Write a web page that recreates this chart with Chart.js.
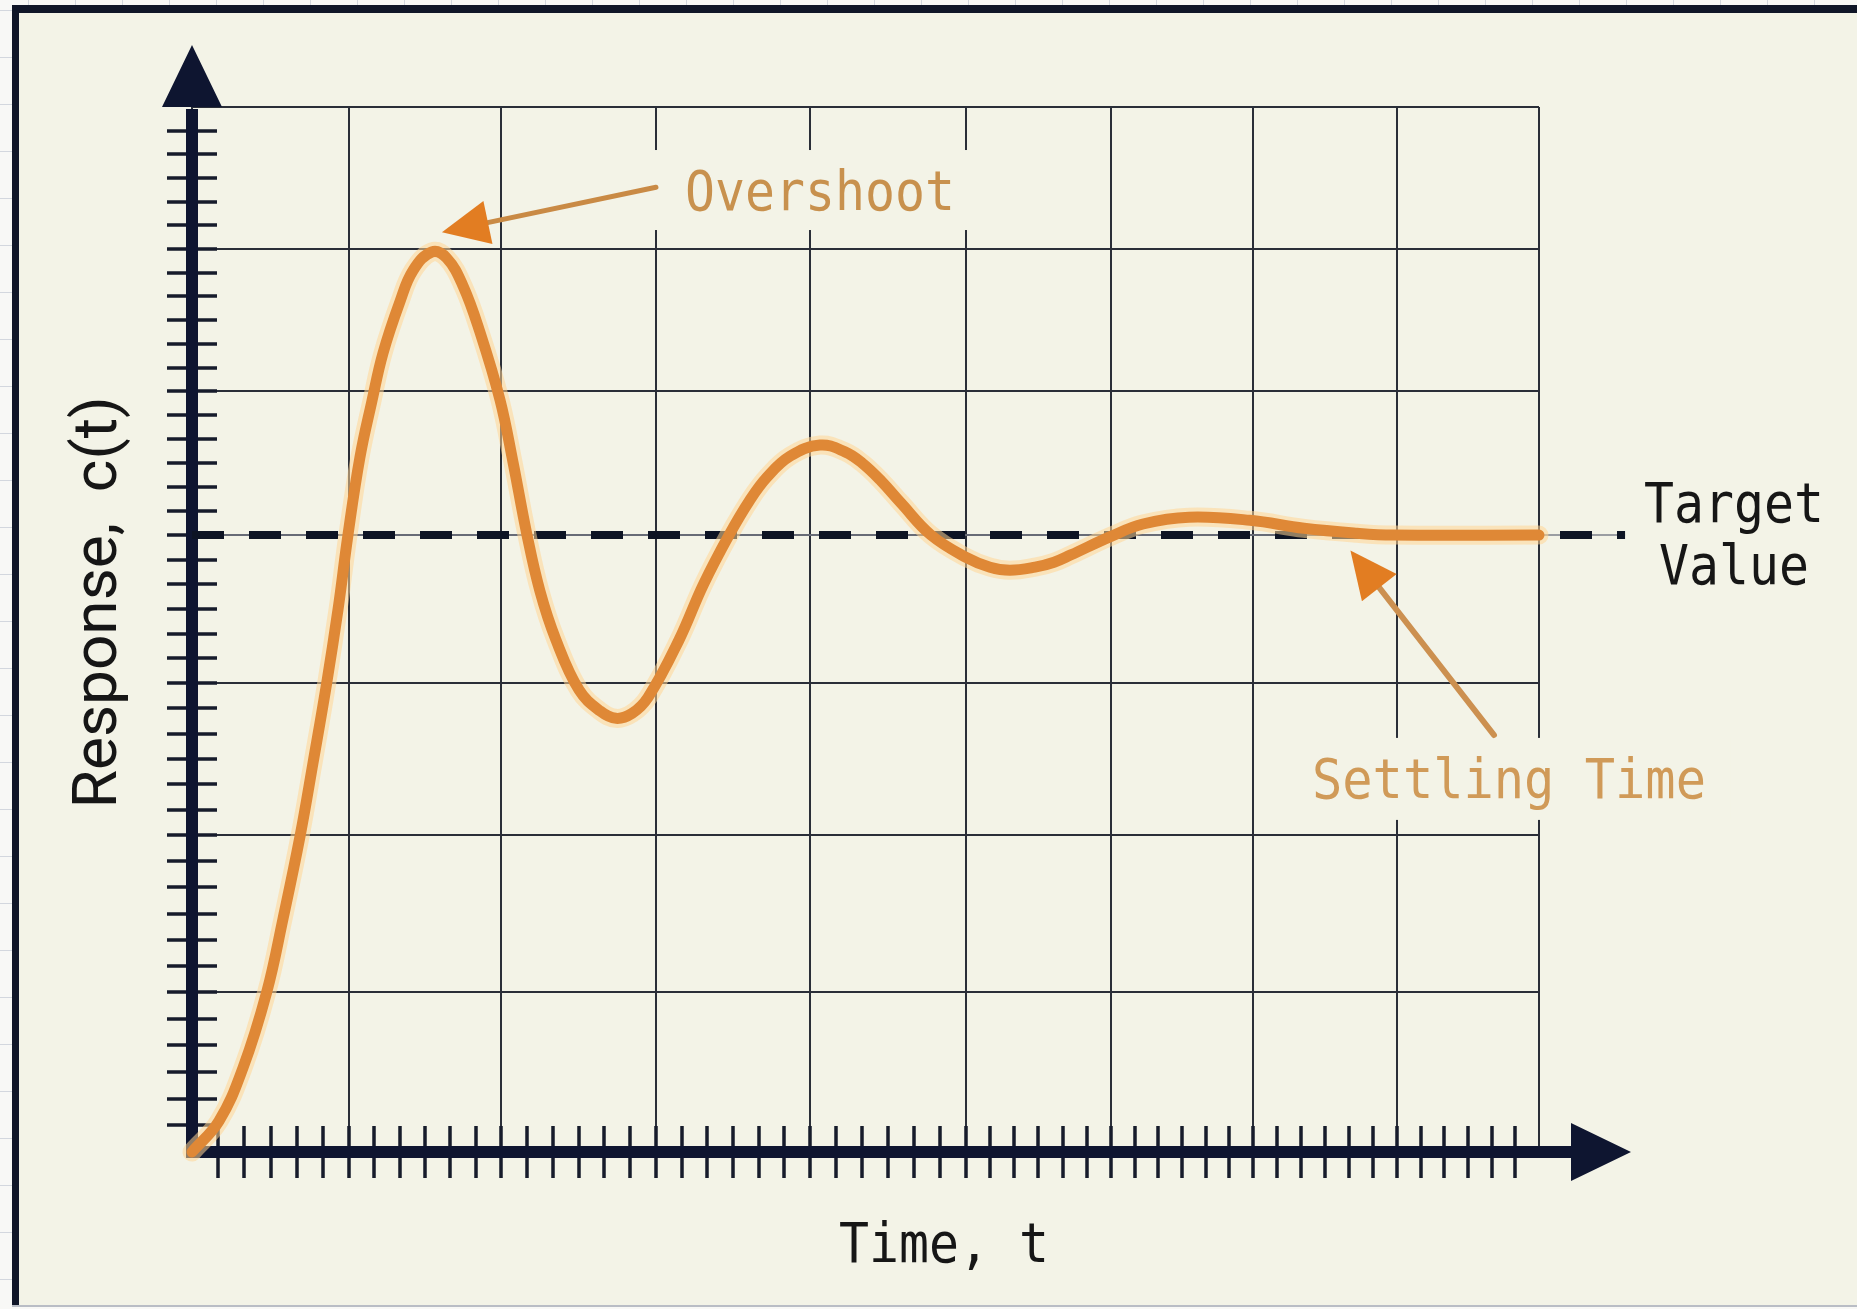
<!DOCTYPE html>
<html>
<head>
<meta charset="utf-8">
<style>
  html, body { margin: 0; padding: 0; background: #f8f8f6; }
  canvas { display: block; }
</style>
<script src="https://cdn.jsdelivr.net/npm/chart.js@4.4.1/dist/chart.umd.min.js"></script>
</head>
<body>
<canvas id="chart" width="1857" height="1309" style="width:1857px;height:1309px"></canvas>
<script>
// ─── DATA ─────────────────────────────────────────────────────
// step response (time axis 0..9, target = 1)
const timeValues = [
  0, 0.18, 0.34, 0.499, 0.608, 0.722, 0.808, 0.900, 0.976, 1.042,
  1.122, 1.201, 1.276, 1.390, 1.477, 1.602, 1.702, 1.811, 1.924, 2.058,
  2.145, 2.236, 2.325, 2.432, 2.586, 2.726, 2.833, 2.940, 3.047, 3.254,
  3.415, 3.588, 3.728, 3.842, 3.996, 4.196, 4.363, 4.477, 4.604, 4.737,
  4.938, 5.172, 5.332, 5.465, 5.633, 5.760, 5.873, 6.140, 6.354, 6.661,
  7.069, 7.430, 7.784, 8.024, 9.0
];
const responseValues = [
  0, 0.05, 0.136, 0.259, 0.378, 0.512, 0.630, 0.760, 0.880, 1.000,
  1.126, 1.216, 1.295, 1.379, 1.429, 1.459, 1.449, 1.404, 1.329, 1.219,
  1.118, 1.003, 0.909, 0.830, 0.749, 0.715, 0.703, 0.711, 0.737, 0.830,
  0.919, 1.000, 1.057, 1.094, 1.128, 1.146, 1.135, 1.117, 1.088, 1.052,
  1.000, 0.964, 0.948, 0.943, 0.948, 0.956, 0.968, 0.998, 1.018, 1.029,
  1.024, 1.011, 1.003, 1.000, 1.000
];

const targetValue   = 1.0;
const targetLineEnd = 9.575;

// grid lines (the drawn grid is slightly uneven)
const xGridValues = [0, 1.049, 2.065, 3.100, 4.129, 5.171, 6.140, 7.089, 8.051, 9];
const yGridValues = [0, 0.259, 0.514, 0.760, 1.0, 1.233, 1.464, 1.694];
const MINOR_DIV = 6;

// labels
const xTitle = 'Time, t';
const yTitle = 'Response,  c(t)';
const targetLabel = ['Target', 'Value'];
const overshootLabel = 'Overshoot';
const settlingLabel  = 'Settling Time';

// annotation anchors in data units [t, c]
const overshootText = [3.294, 1.527];
const overshootTail = [3.100, 1.564];
const overshootTip  = [1.670, 1.491];
const settlingText  = [7.483, 0.574];
const settlingTail  = [8.699, 0.676];
const settlingTip   = [7.740, 0.975];
const targetTextPos = [[10.303, 1.021], [10.303, 0.921]];
const xTitlePos = [5.024, -0.178];
const yTitlePos = [-0.508, 0.891];

// ─── STYLE ────────────────────────────────────────────────────
const NAVY   = '#0e1530';
const ORANGE = '#df8836';
const TAN    = '#c8914e';
const MONO   = "56px 'DejaVu Sans Mono'";

// ─── HELPERS ──────────────────────────────────────────────────
function subdivide(vals, n) {
  const out = [];
  for (let i = 0; i < vals.length - 1; i++) {
    for (let k = 0; k < n; k++) out.push(vals[i] + (vals[i + 1] - vals[i]) * k / n);
  }
  out.push(vals[vals.length - 1]);
  return out;
}

// draw text squeezed to a given advance width
function fitText(ctx, text, x, y, width, align) {
  const w = ctx.measureText(text).width;
  ctx.save();
  ctx.translate(x, y);
  ctx.scale(width / w, 1);
  ctx.textAlign = align || 'left';
  ctx.fillText(text, 0, 0);
  ctx.restore();
}

function drawArrow(ctx, tail, tip, shaftColor, headColor, shaftW) {
  const dx = tip[0] - tail[0], dy = tip[1] - tail[1];
  const len = Math.hypot(dx, dy);
  const ux = dx / len, uy = dy / len;
  const bx = tip[0] - ux * 47, by = tip[1] - uy * 47;
  ctx.save();
  ctx.strokeStyle = shaftColor;
  ctx.lineWidth = shaftW;
  ctx.lineCap = 'round';
  ctx.beginPath();
  ctx.moveTo(tail[0], tail[1]);
  ctx.lineTo(bx + ux * 4, by + uy * 4);
  ctx.stroke();
  ctx.fillStyle = headColor;
  ctx.beginPath();
  ctx.moveTo(tip[0], tip[1]);
  ctx.lineTo(bx - uy * 22, by + ux * 22);
  ctx.lineTo(bx + uy * 22, by - ux * 22);
  ctx.closePath();
  ctx.fill();
  ctx.restore();
}

// ─── DECORATION PLUGIN ────────────────────────────────────────
const decor = {
  id: 'decor',
  beforeDraw(chart) {
    const { ctx, width, height } = chart;
    ctx.save();
    ctx.fillStyle = '#f8f8f6';
    ctx.fillRect(0, 0, width, height);
    // faint paper lines outside the frame
    ctx.strokeStyle = '#d3d7de';
    ctx.lineWidth = 1;
    ctx.beginPath();
    for (let gx = 28; gx < width; gx += 47) { ctx.moveTo(gx + 0.5, 0); ctx.lineTo(gx + 0.5, 6); }
    for (let gy = 10; gy < height; gy += 47) { ctx.moveTo(0, gy + 0.5); ctx.lineTo(12, gy + 0.5); }
    ctx.stroke();
    // panel + frame
    ctx.fillStyle = '#f3f3e7';
    ctx.fillRect(12, 5, width - 12, 1300);
    ctx.fillStyle = '#101628';
    ctx.fillRect(12, 5, 7, 1300);
    ctx.fillRect(12, 5, width - 12, 8);
    ctx.fillStyle = '#b9bdc5';
    ctx.fillRect(12, 1305, width - 12, 2);
    ctx.restore();
  },

  beforeDatasetsDraw(chart) {
    const { ctx, chartArea: a, scales: { x, y } } = chart;
    const P = p => [x.getPixelForValue(p[0]), y.getPixelForValue(p[1])];
    ctx.save();

    // cream boxes behind the annotation labels (they cut the grid)
    ctx.fillStyle = '#f3f3e7';
    const o = P(overshootText), s = P(settlingText);
    ctx.fillRect(o[0] - 35, o[1] - 60, 270 + 60, 80);
    ctx.fillRect(s[0] - 35, s[1] - 60, 394 + 60, 82);

    const x0 = x.getPixelForValue(0), y0 = y.getPixelForValue(0);

    // minor ticks
    ctx.strokeStyle = '#161b2b';
    ctx.lineWidth = 3.5;
    ctx.beginPath();
    const yTicks = subdivide(yGridValues, MINOR_DIV).slice(1, -1);
    yTicks.forEach(v => {
      const py = Math.round(y.getPixelForValue(v));
      ctx.moveTo(x0 - 25, py); ctx.lineTo(x0 + 25, py);
    });
    const xTicks = subdivide(xGridValues, MINOR_DIV).slice(1, -1);
    xTicks.forEach(v => {
      const px = Math.round(x.getPixelForValue(v));
      ctx.moveTo(px, y0 - 26); ctx.lineTo(px, y0 + 26);
    });
    ctx.stroke();

    // axis lines
    ctx.strokeStyle = NAVY;
    ctx.fillStyle = NAVY;
    ctx.lineWidth = 12;
    ctx.lineCap = 'butt';
    ctx.beginPath();
    ctx.moveTo(x0, y0 + 6); ctx.lineTo(x0, a.top + 2);
    ctx.moveTo(x0 - 6, y0); ctx.lineTo(a.right + 34, y0);
    ctx.stroke();

    // arrow heads
    ctx.beginPath();
    ctx.moveTo(x0, a.top - 62);
    ctx.lineTo(x0 - 30, a.top);
    ctx.lineTo(x0 + 30, a.top);
    ctx.closePath();
    ctx.moveTo(a.right + 92, y0);
    ctx.lineTo(a.right + 32, y0 - 29);
    ctx.lineTo(a.right + 32, y0 + 29);
    ctx.closePath();
    ctx.fill();
    ctx.restore();
  },

  afterDatasetsDraw(chart) {
    const { ctx, scales: { x, y } } = chart;
    const P = p => [x.getPixelForValue(p[0]), y.getPixelForValue(p[1])];
    ctx.save();

    drawArrow(ctx, P(overshootTail), P(overshootTip), '#c98a45', '#e27d22', 5);
    drawArrow(ctx, P(settlingTail), P(settlingTip), '#cc9050', '#e27d22', 6);

    ctx.font = MONO;
    ctx.textBaseline = 'alphabetic';

    ctx.fillStyle = TAN;
    let p = P(overshootText);
    fitText(ctx, overshootLabel, p[0], p[1], 270);
    ctx.fillStyle = '#d09a58';
    p = P(settlingText);
    fitText(ctx, settlingLabel, p[0], p[1], 394);

    ctx.fillStyle = '#161616';
    p = P(targetTextPos[0]);
    fitText(ctx, targetLabel[0], p[0], p[1], 180, 'center');
    p = P(targetTextPos[1]);
    fitText(ctx, targetLabel[1], p[0], p[1], 150, 'center');

    p = P(xTitlePos);
    fitText(ctx, xTitle, p[0], p[1], 210, 'center');

    // rotated y title
    p = P(yTitlePos);
    ctx.font = "62px Roboto";
    const w = ctx.measureText(yTitle).width;
    ctx.save();
    ctx.translate(p[0], p[1]);
    ctx.rotate(-Math.PI / 2);
    ctx.scale(412 / w, 1);
    ctx.textAlign = 'center';
    ctx.fillText(yTitle, 0, 0);
    ctx.restore();

    ctx.restore();
  }
};

// ─── CHART ────────────────────────────────────────────────────
const curve = timeValues.map((t, i) => ({ x: t, y: responseValues[i] }));
const target = [{ x: 0, y: targetValue }, { x: targetLineEnd, y: targetValue }];

const gridOpts = { color: '#2a2e38', lineWidth: 2, drawTicks: false };

const curveStyle = {
  pointRadius: 0,
  tension: 0.4,
  borderJoinStyle: 'round',
  borderCapStyle: 'round',
  fill: false,
  clip: false
};

new Chart(document.getElementById('chart'), {
  type: 'line',
  data: {
    datasets: [
      Object.assign({ label: 'c(t)', data: curve, borderColor: ORANGE, borderWidth: 11, order: 1 }, curveStyle),
      Object.assign({ label: 'glow', data: curve, borderColor: 'rgba(255,214,150,0.55)', borderWidth: 19, order: 2 }, curveStyle),
      {
        label: 'Target',
        data: target,
        borderColor: '#0d1424',
        borderWidth: 8,
        borderDash: [32, 25],
        borderCapStyle: 'butt',
        pointRadius: 0,
        fill: false,
        clip: false,
        order: 3
      },
      {
        label: 'Target thin',
        data: target,
        borderColor: '#7c818b',
        borderWidth: 1.5,
        pointRadius: 0,
        fill: false,
        clip: false,
        order: 4
      }
    ]
  },
  options: {
    responsive: false,
    animation: false,
    devicePixelRatio: 1,
    events: [],
    layout: { padding: { left: 192, right: 318, top: 107, bottom: 157 } },
    plugins: { legend: { display: false }, tooltip: { enabled: false } },
    scales: {
      x: {
        type: 'linear',
        min: 0,
        max: 9,
        afterBuildTicks: s => { s.ticks = xGridValues.map(v => ({ value: v })); },
        ticks: { display: false },
        grid: gridOpts,
        border: { display: false }
      },
      y: {
        type: 'linear',
        min: 0,
        max: yGridValues[yGridValues.length - 1],
        afterBuildTicks: s => { s.ticks = yGridValues.map(v => ({ value: v })); },
        ticks: { display: false },
        grid: gridOpts,
        border: { display: false }
      }
    }
  },
  plugins: [decor]
});
</script>
</body>
</html>
